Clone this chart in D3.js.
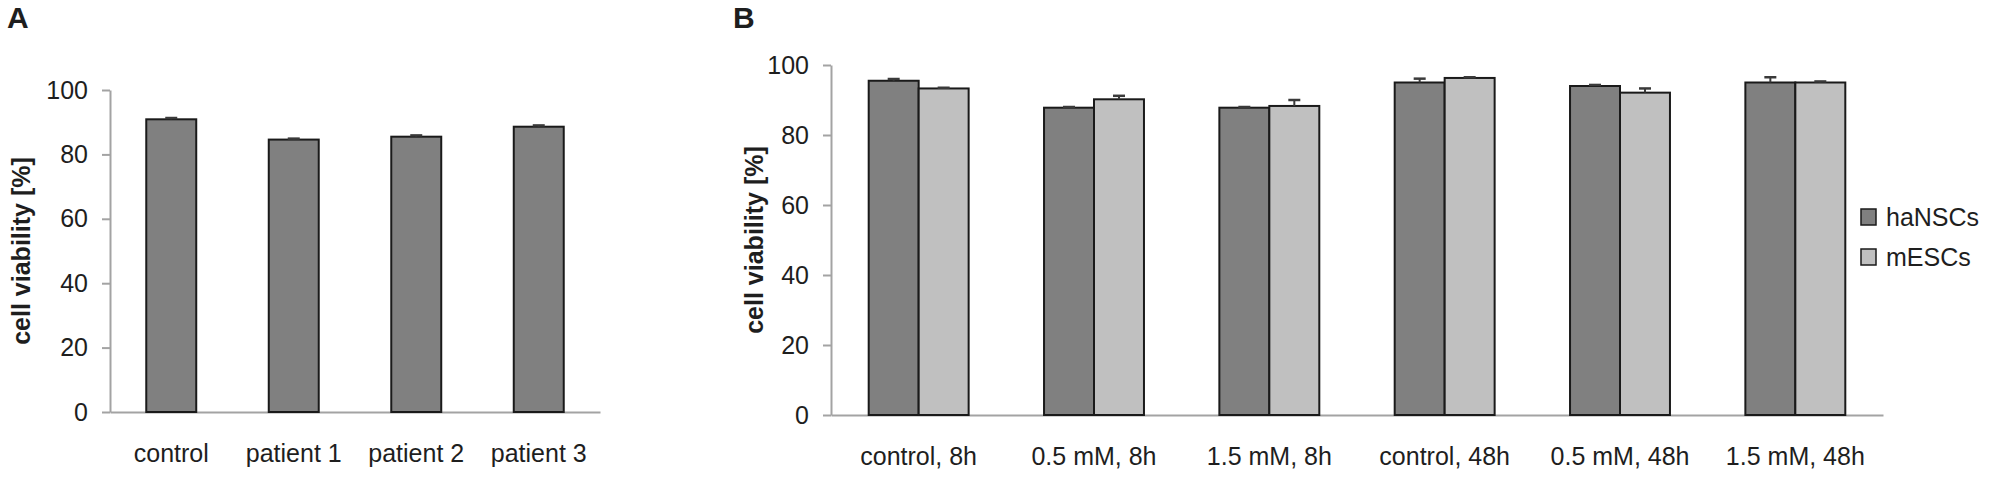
<!DOCTYPE html>
<html>
<head>
<meta charset="utf-8">
<script src="https://cdn.jsdelivr.net/npm/d3@7"></script>
<style>
  html, body { margin: 0; padding: 0; background: #fff; }
  svg text { font-family: "Liberation Sans", Arial, sans-serif; fill: #1e1e1e; }
</style>
</head>
<body>
<svg id="chart" width="2000" height="484"></svg>
<script>
// ---------- Data ----------
const categoriesA = ["control", "patient 1", "patient 2", "patient 3"];
const valuesA = [90.9, 84.6, 85.5, 88.6];
const errorsA = [0.4, 0.3, 0.4, 0.4];

const categoriesB = ["control, 8h", "0.5 mM, 8h", "1.5 mM, 8h", "control, 48h", "0.5 mM, 48h", "1.5 mM, 48h"];
const seriesB = ["haNSCs", "mESCs"];
const haNSCsValues = [95.5, 87.8, 87.8, 95.0, 94.0, 95.0];
const haNSCsErrors = [0.5, 0.2, 0.2, 1.1, 0.3, 1.5];
const mESCsValues = [93.3, 90.2, 88.3, 96.3, 92.1, 95.0];
const mESCsErrors = [0.2, 1.0, 1.7, 0.2, 1.2, 0.3];

const yTicks = [0, 20, 40, 60, 80, 100];
const yLabel = "cell viability [%]";
const panelLabels = ["A", "B"];

// ---------- Styles ----------
const colors = { haNSCs: "#808080", mESCs: "#c0c0c0" };
const axisColor = "#a3a3a3";
const fontSize = 25;

const svg = d3.select("#chart");

function styleAxis(g) {
  g.selectAll("path.domain").attr("stroke", axisColor).attr("stroke-width", 2);
  g.selectAll(".tick line").attr("stroke", axisColor).attr("stroke-width", 2);
  g.selectAll(".tick text").attr("font-size", fontSize).attr("fill", "#1e1e1e")
    .attr("font-family", '"Liberation Sans", Arial, sans-serif');
}

function drawErrors(g, data) {
  const e = g.selectAll("g.err").data(data).join("g").attr("class", "err");
  e.append("line")
    .attr("x1", d => d.cx).attr("x2", d => d.cx)
    .attr("y1", d => d.y0).attr("y2", d => d.y1)
    .attr("stroke", "#3a3a3a").attr("stroke-width", 2);
  e.append("line")
    .attr("x1", d => d.cx - 6).attr("x2", d => d.cx + 6)
    .attr("y1", d => d.y1).attr("y2", d => d.y1)
    .attr("stroke", "#3a3a3a").attr("stroke-width", 2.5);
}

// ---------- Panel A ----------
(function () {
  const x = d3.scaleBand().domain(categoriesA).range([110, 600]).paddingInner(0.592).paddingOuter(0.296);
  const y = d3.scaleLinear().domain([0, 100]).range([412, 90]);
  const g = svg.append("g");

  g.append("g").attr("transform", `translate(0,${y(0)})`)
    .call(d3.axisBottom(x).tickSize(0).tickSizeOuter(0).tickPadding(32))
    .call(styleAxis);
  g.append("g").attr("transform", `translate(110,0)`)
    .call(d3.axisLeft(y).tickValues(yTicks).tickSize(8).tickSizeOuter(0).tickPadding(14))
    .call(styleAxis);

  const data = categoriesA.map((c, i) => ({ c, v: valuesA[i], e: errorsA[i] }));
  g.selectAll("rect.bar").data(data).join("rect").attr("class", "bar")
    .attr("x", d => x(d.c)).attr("width", x.bandwidth())
    .attr("y", d => y(d.v)).attr("height", d => y(0) - y(d.v))
    .attr("fill", colors.haNSCs).attr("stroke", "#1a1a1a").attr("stroke-width", 2);

  drawErrors(g, data.map(d => ({ cx: x(d.c) + x.bandwidth() / 2, y0: y(d.v), y1: y(d.v + d.e) })));

  g.append("text").attr("transform", `translate(30,${(y(0) + y(100)) / 2}) rotate(-90)`)
    .attr("text-anchor", "middle").attr("font-size", fontSize).attr("font-weight", "bold")
    .text(yLabel);
  g.append("text").attr("x", 7).attr("y", 28).attr("font-size", 30).attr("font-weight", "bold")
    .text(panelLabels[0]);
})();

// ---------- Panel B ----------
(function () {
  const x0 = d3.scaleBand().domain(categoriesB).range([831, 1883]).paddingInner(0.43).paddingOuter(0.215);
  const x1 = d3.scaleBand().domain(seriesB).range([0, x0.bandwidth()]);
  const y = d3.scaleLinear().domain([0, 100]).range([415, 65]);
  const g = svg.append("g");

  g.append("g").attr("transform", `translate(0,${y(0)})`)
    .call(d3.axisBottom(x0).tickSize(0).tickSizeOuter(0).tickPadding(32))
    .call(styleAxis);
  g.append("g").attr("transform", `translate(831,0)`)
    .call(d3.axisLeft(y).tickValues(yTicks).tickSize(8).tickSizeOuter(0).tickPadding(14))
    .call(styleAxis);

  const vals = { haNSCs: haNSCsValues, mESCs: mESCsValues };
  const errs = { haNSCs: haNSCsErrors, mESCs: mESCsErrors };
  const data = [];
  categoriesB.forEach((c, i) => seriesB.forEach(s => data.push({ c, s, v: vals[s][i], e: errs[s][i] })));

  g.selectAll("rect.bar").data(data).join("rect").attr("class", "bar")
    .attr("x", d => x0(d.c) + x1(d.s)).attr("width", x1.bandwidth())
    .attr("y", d => y(d.v)).attr("height", d => y(0) - y(d.v))
    .attr("fill", d => colors[d.s]).attr("stroke", "#1a1a1a").attr("stroke-width", 2);

  drawErrors(g, data.map(d => ({ cx: x0(d.c) + x1(d.s) + x1.bandwidth() / 2, y0: y(d.v), y1: y(d.v + d.e) })));

  g.append("text").attr("transform", `translate(763,${(y(0) + y(100)) / 2}) rotate(-90)`)
    .attr("text-anchor", "middle").attr("font-size", fontSize).attr("font-weight", "bold")
    .text(yLabel);
  g.append("text").attr("x", 733).attr("y", 28).attr("font-size", 30).attr("font-weight", "bold")
    .text(panelLabels[1]);

  // legend
  const leg = g.selectAll("g.leg").data(seriesB).join("g").attr("class", "leg")
    .attr("transform", (d, i) => `translate(1861,${217 + i * 40})`);
  leg.append("rect").attr("x", 0).attr("y", -8).attr("width", 15).attr("height", 16)
    .attr("fill", d => colors[d]).attr("stroke", "#1a1a1a").attr("stroke-width", 1.5);
  leg.append("text").attr("x", 25).attr("y", 0).attr("dy", "0.35em")
    .attr("font-size", fontSize).text(d => d);
})();
</script>
</body>
</html>
